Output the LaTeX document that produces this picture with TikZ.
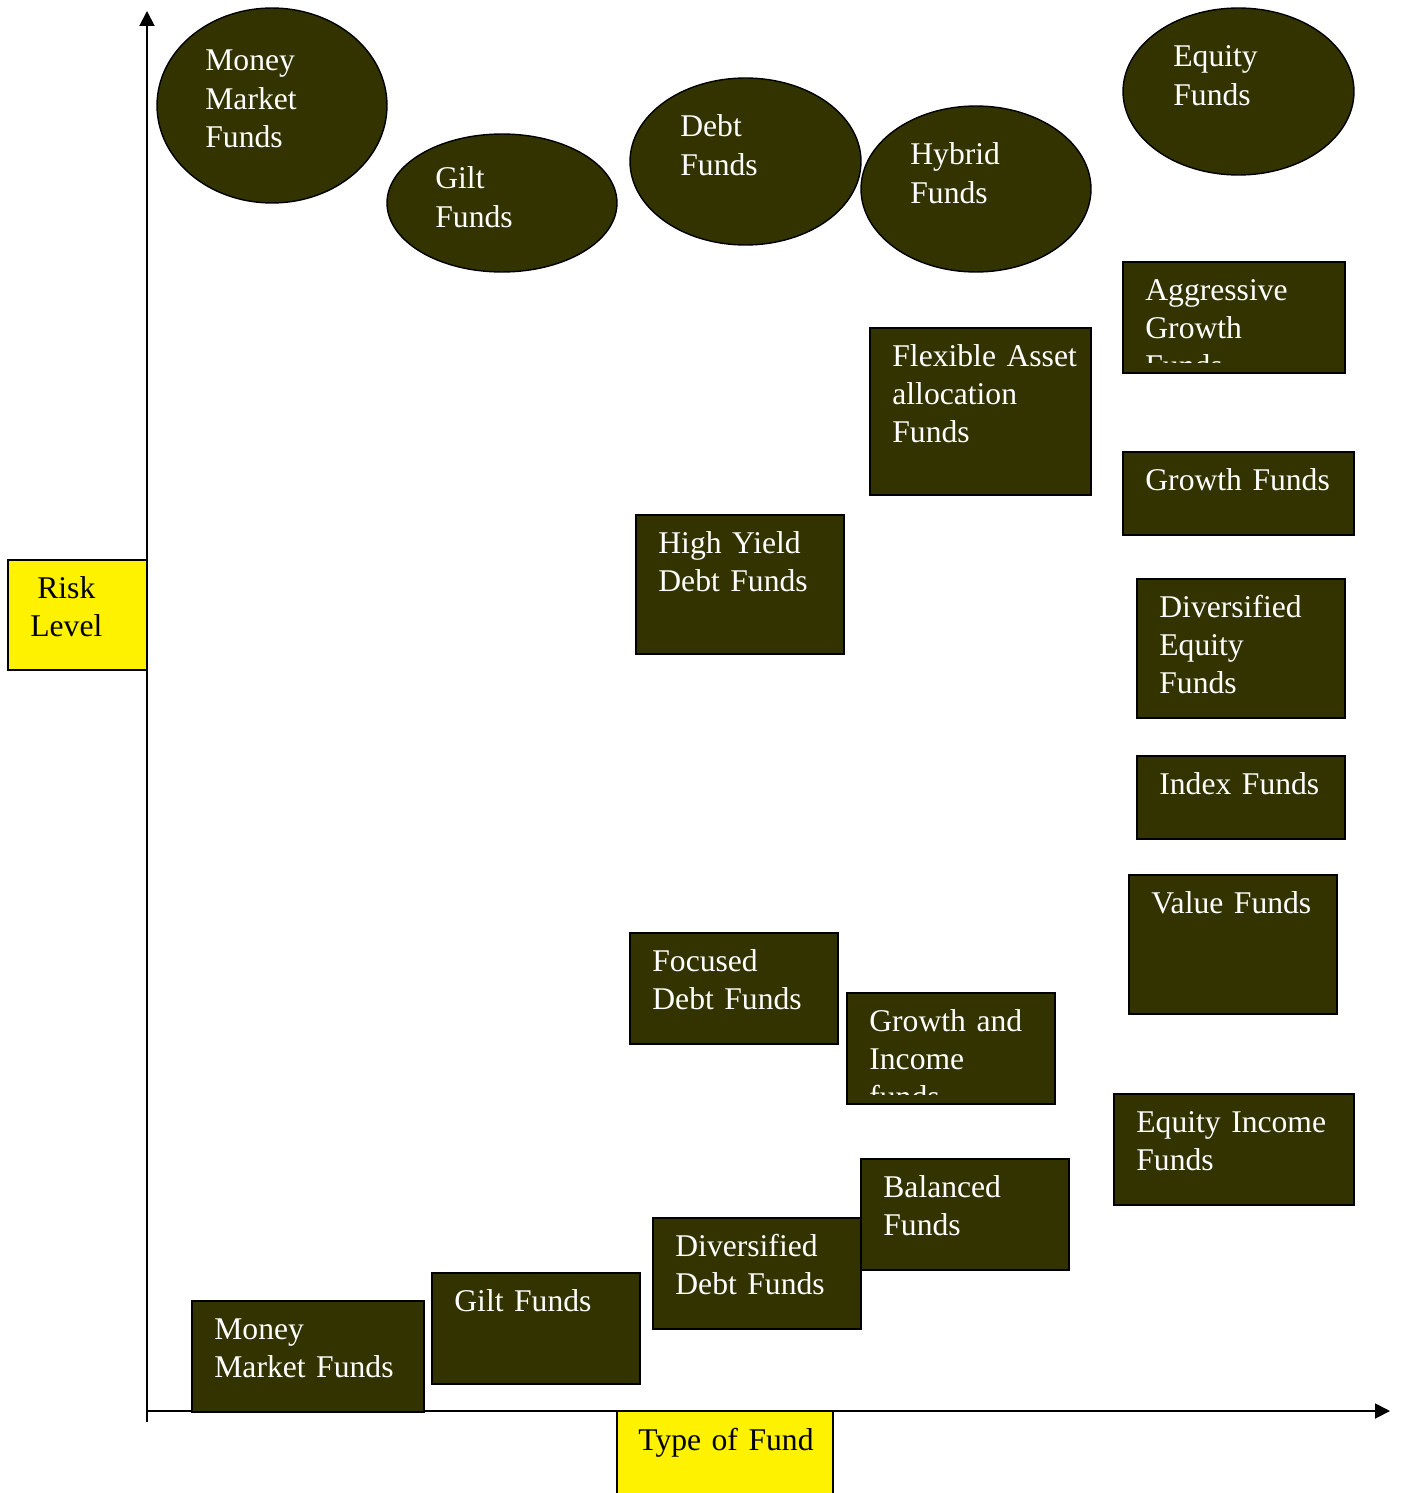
\documentclass[tikz,border=0pt]{standalone}
\usepackage{fontspec}
\setmainfont{Liberation Serif}
\usepgflibrary{arrows.meta}
\usetikzlibrary{shapes.geometric}
\definecolor{fundolive}{HTML}{333300}
\newcommand{\fundfont}{\fontsize{18pt}{21.9pt}\selectfont}

\begin{document}
\begin{tikzpicture}[x=0.02cm,y=-0.02cm,
  fund oval/.style={ellipse,draw,fill=fundolive,line width=0.8pt,inner sep=0.,outer sep=0.},
  fund box/.style={rectangle,draw,fill=fundolive,line width=1.1pt,inner sep=0.,outer sep=0.},
  axis box/.style={rectangle,draw,fill=yellow,line width=1.1pt,inner sep=0.,outer sep=0.},
  fund text/.style={anchor=base west,inner sep=0.,text=white,text width=5cm,align=left,font=\fundfont},
  box text/.style={fund text,xshift=0.44cm,yshift=-0.76cm}]%
  \useasboundingbox (0,0) rectangle (1400,1493);
  \coordinate (ybot) at (147,1422);
  \coordinate (ytop) at (147,11);
  \coordinate (origin) at (147,1411);
  \coordinate (xend) at (1390,1411);
  \draw[line width=1.1pt,-{Triangle[length=0.3cm,width=0.3cm]}] (ybot)--(ytop);
  \draw[line width=1.1pt,-{Triangle[length=0.3cm,width=0.3cm]}] (origin)--(xend);
  \node[axis box,minimum width=2.78cm,minimum height=2.2cm] (riskbox) at (77.5,615) {};
  \node[fund text,text=black,text width=2.6cm,align=center] (risktext) at (1,598) {Risk\\Level};
  \node[axis box,minimum width=4.32cm,minimum height=1.78cm] (typebox) at (725,1455.5) {};
  \node[fund text,text=black] (typetext) at (638,1450) {Type of Fund};
  \node[fund oval,minimum width=4.6cm,minimum height=3.9cm] (mmoval) at (272,105.5) {};
  \node[fund text] (mmovaltext) at (205,71) {Money\\Market\\Funds};
  \node[fund oval,minimum width=4.6cm,minimum height=2.76cm] (giltoval) at (502,203) {};
  \node[fund text] (giltovaltext) at (435,189) {Gilt\\Funds};
  \node[fund oval,minimum width=4.62cm,minimum height=3.34cm] (debtoval) at (745.5,161.5) {};
  \node[fund text] (debtovaltext) at (680,137) {Debt\\Funds};
  \node[fund oval,minimum width=4.6cm,minimum height=3.32cm] (hybridoval) at (976,189) {};
  \node[fund text] (hybridovaltext) at (910,165) {Hybrid\\Funds};
  \node[fund oval,minimum width=4.62cm,minimum height=3.34cm] (equityoval) at (1238.5,91.5) {};
  \node[fund text] (equityovaltext) at (1173,67) {Equity\\Funds};
  \node[fund box,minimum width=4.44cm,minimum height=2.22cm] (aggbox) at (1234,317.5) {};
  \begin{scope}
    \clip (aggbox.north west) rectangle ([yshift=0.2cm]aggbox.south east);
    \node[box text] (aggtext) at (aggbox.north west) {Aggressive\\Growth\\Funds};
  \end{scope}
  \node[fund box,minimum width=4.42cm,minimum height=3.34cm] (flexbox) at (980.5,411.5) {};
  \node[box text] (flextext) at (flexbox.north west) {Flexible Asset\\allocation\\Funds};
  \node[fund box,minimum width=4.62cm,minimum height=1.66cm] (growthbox) at (1238.5,493.5) {};
  \node[box text] (growthtext) at (growthbox.north west) {Growth Funds};
  \node[fund box,minimum width=4.16cm,minimum height=2.78cm] (highbox) at (740,584.5) {};
  \node[box text] (hightext) at (highbox.north west) {High Yield\\Debt Funds};
  \node[fund box,minimum width=4.16cm,minimum height=2.78cm] (diveqbox) at (1241,648.5) {};
  \node[box text] (diveqtext) at (diveqbox.north west) {Diversified\\Equity\\Funds};
  \node[fund box,minimum width=4.16cm,minimum height=1.66cm] (indexbox) at (1241,797.5) {};
  \node[box text] (indextext) at (indexbox.north west) {Index Funds};
  \node[fund box,minimum width=4.16cm,minimum height=2.78cm] (valuebox) at (1233,944.5) {};
  \node[box text] (valuetext) at (valuebox.north west) {Value Funds};
  \node[fund box,minimum width=4.16cm,minimum height=2.22cm] (focusbox) at (734,988.5) {};
  \node[box text] (focustext) at (focusbox.north west) {Focused\\Debt Funds};
  \node[fund box,minimum width=4.16cm,minimum height=2.22cm] (gaibox) at (951,1048.5) {};
  \begin{scope}
    \clip (gaibox.north west) rectangle ([yshift=0.2cm]gaibox.south east);
    \node[box text] (gaitext) at (gaibox.north west) {Growth and\\Income\\funds};
  \end{scope}
  \node[fund box,minimum width=4.8cm,minimum height=2.22cm] (eqincbox) at (1234,1149.5) {};
  \node[box text] (eqinctext) at (eqincbox.north west) {Equity Income\\Funds};
  \node[fund box,minimum width=4.16cm,minimum height=2.22cm] (balbox) at (965,1214.5) {};
  \node[box text] (baltext) at (balbox.north west) {Balanced\\Funds};
  \node[fund box,minimum width=4.16cm,minimum height=2.22cm] (divdebtbox) at (757,1273.5) {};
  \node[box text] (divdebttext) at (divdebtbox.north west) {Diversified\\Debt Funds};
  \node[fund box,minimum width=4.16cm,minimum height=2.22cm] (giltbox) at (536,1328.5) {};
  \node[box text] (gilttext) at (giltbox.north west) {Gilt Funds};
  \node[fund box,minimum width=4.64cm,minimum height=2.22cm] (mmbox) at (308,1356.5) {};
  \node[box text] (mmtext) at (mmbox.north west) {Money\\Market Funds};
\end{tikzpicture}
\end{document}
